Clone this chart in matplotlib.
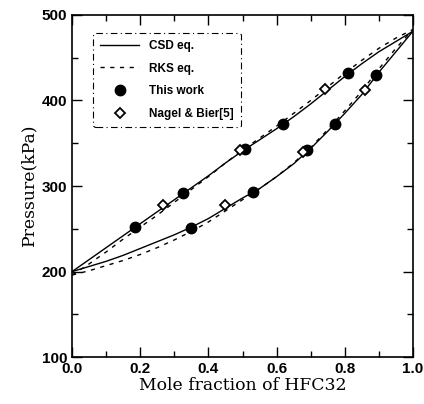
import numpy as np
import matplotlib.pyplot as plt
from matplotlib.ticker import MultipleLocator

# CSD eq. (solid) and RKS eq. (dashed) curves
x_curve = [0.0, 0.05, 0.1, 0.15, 0.2, 0.25, 0.3, 0.35, 0.4, 0.45, 0.5,
           0.55, 0.6, 0.65, 0.7, 0.75, 0.8, 0.85, 0.9, 0.95, 1.0]
csd_upper = [200, 214, 228, 242, 256, 270, 284, 298, 312, 327, 341,
             354, 367, 381, 396, 412, 428, 443, 457, 469, 481]
csd_lower = [200, 206, 212, 219, 227, 235, 243, 252, 262, 274, 286,
             297, 311, 326, 344, 364, 385, 407, 433, 457, 481]
rks_upper = [196, 209, 223, 238, 252, 266, 281, 296, 311, 327, 342,
             356, 370, 385, 400, 416, 432, 447, 461, 473, 483]
rks_lower = [196, 201, 207, 213, 220, 228, 237, 247, 258, 271, 284,
             297, 311, 327, 345, 366, 388, 411, 437, 461, 483]

# This work
tw_x = [0.185, 0.326, 0.507, 0.619, 0.81, 0.349, 0.531, 0.689, 0.771, 0.891]
tw_p = [252, 292, 343, 372, 432, 251, 293, 342, 372, 430]

# Nagel & Bier[5]
nb_x = [0.267, 0.493, 0.742, 0.449, 0.677, 0.859]
nb_p = [278, 342, 413, 278, 340, 412]

fig = plt.figure(figsize=(4.24, 4.04), dpi=100)
ax = fig.add_axes([0.170, 0.116, 0.804, 0.847])

ax.plot(x_curve, csd_upper, color='black', lw=1.0, label='CSD eq.')
ax.plot(x_curve, csd_lower, color='black', lw=1.0)
ax.plot(x_curve, rks_upper, color='black', lw=1.0, ls=(0, (3, 4)), label='RKS eq.')
ax.plot(x_curve, rks_lower, color='black', lw=1.0, ls=(0, (3, 4)))
ax.plot(tw_x, tw_p, 'o', color='black', ms=7.5, ls='none', label='This work', zorder=3)
ax.plot(nb_x, nb_p, 'D', mfc='white', mec='black', mew=1.3, ms=5.5, ls='none',
        label='Nagel & Bier[5]', zorder=4)

ax.set_xlim(0, 1.0)
ax.set_ylim(100, 500)
ax.xaxis.set_major_locator(MultipleLocator(0.2))
ax.xaxis.set_minor_locator(MultipleLocator(0.1))
ax.yaxis.set_major_locator(MultipleLocator(100))
ax.yaxis.set_minor_locator(MultipleLocator(50))
ax.tick_params(which='both', direction='in', top=True, right=True, width=1.0)
ax.tick_params(which='major', length=7)
ax.tick_params(which='minor', length=4)
ax.set_xticks([0, 0.2, 0.4, 0.6, 0.8, 1.0])
ax.set_xticklabels(['0.0', '0.2', '0.4', '0.6', '0.8', '1.0'])
for lbl in ax.get_xticklabels() + ax.get_yticklabels():
    lbl.set_fontweight('bold')
    lbl.set_fontsize(11)
    lbl.set_family('Liberation Sans')
for s in ax.spines.values():
    s.set_linewidth(1.2)

ax.set_xlabel('Mole fraction of HFC32', family='DejaVu Serif', fontsize=12.4, labelpad=1)
ax.set_ylabel('Pressure(kPa)', family='DejaVu Serif', fontsize=12.4, labelpad=3)

leg = ax.legend(loc='upper left', bbox_to_anchor=(0.045, 0.965), fancybox=True,
                prop={'family': 'Liberation Sans', 'weight': 'bold', 'size': 8.5},
                handlelength=3.3, labelspacing=0.9, borderpad=0.6, framealpha=1)
fr = leg.get_frame()
fr.set_edgecolor('black')
fr.set_linestyle((0, (6, 3, 1, 3)))
fr.set_linewidth(0.8)

fig.savefig('out.png', dpi=100)
